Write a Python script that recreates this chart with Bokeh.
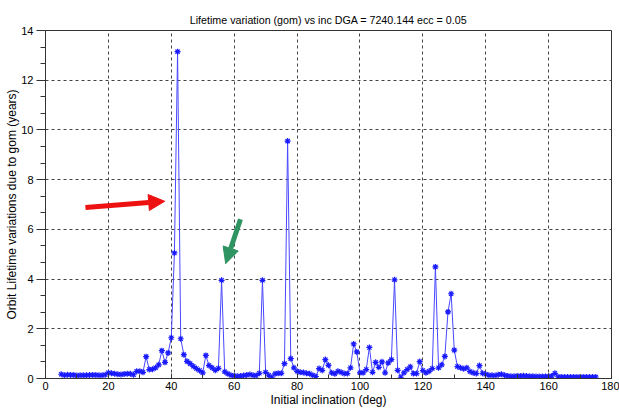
from bokeh.plotting import figure
from bokeh.models import FixedTicker, Arrow, NormalHead, ColumnDataSource, Title
from bokeh.embed import file_html
from bokeh.resources import INLINE

# ---- data ----
inclination = [
    5, 6, 7, 8, 9, 10, 11, 12, 13, 14,
    15, 16, 17, 18, 19, 20, 21, 22, 23, 24,
    25, 26, 27, 28, 29, 30, 31, 32, 33, 34,
    35, 36, 37, 38, 39, 40, 41, 42, 43, 44,
    45, 46, 47, 48, 49, 50, 51, 52, 53, 54,
    55, 56, 57, 58, 59, 60, 61, 62, 63, 64,
    65, 66, 67, 68, 69, 70, 71, 72, 73, 74,
    75, 76, 77, 78, 79, 80, 81, 82, 83, 84,
    85, 86, 87, 88, 89, 90, 91, 92, 93, 94,
    95, 96, 97, 98, 99, 100, 101, 102, 103, 104,
    105, 106, 107, 108, 109, 110, 111, 112, 113, 114,
    115, 116, 117, 118, 119, 120, 121, 122, 123, 124,
    125, 126, 127, 128, 129, 130, 131, 132, 133, 134,
    135, 136, 137, 138, 139, 140, 141, 142, 143, 144,
    145, 146, 147, 148, 149, 150, 151, 152, 153, 154,
    155, 156, 157, 158, 159, 160, 161, 162, 163, 164,
    165, 166, 167, 168, 169, 170, 171, 172, 173, 174,
    175,
]
lifetime_var = [
    0.17, 0.13, 0.15, 0.14, 0.14, 0.12, 0.13, 0.13, 0.13, 0.14,
    0.14, 0.14, 0.13, 0.13, 0.15, 0.23, 0.21, 0.19, 0.17, 0.16,
    0.18, 0.19, 0.19, 0.15, 0.29, 0.29, 0.25, 0.88, 0.36, 0.37,
    0.43, 0.55, 1.12, 0.65, 1.03, 1.64, 5.05, 13.15, 1.60, 0.96,
    0.69, 0.60, 0.49, 0.40, 0.32, 0.23, 0.93, 0.52, 0.43, 0.33,
    0.41, 3.95, 0.27, 0.19, 0.13, 0.11, 0.09, 0.10, 0.12, 0.14,
    0.16, 0.13, 0.12, 0.21, 3.95, 0.25, 0.13, 0.05, 0.19, 0.21,
    0.21, 0.60, 9.55, 0.80, 0.43, 0.29, 0.25, 0.24, 0.21, 0.19,
    0.13, 0.08, 0.40, 0.33, 0.76, 0.53, 0.23, 0.19, 0.29, 0.25,
    0.20, 0.20, 0.43, 1.39, 1.07, 0.23, 0.23, 0.36, 1.25, 0.25,
    0.65, 0.45, 0.67, 0.23, 0.63, 0.76, 3.97, 0.33, 0.05, 0.23,
    0.36, 0.47, 0.20, 0.20, 0.68, 0.32, 0.23, 0.29, 0.40, 4.49,
    0.43, 0.55, 0.89, 2.68, 3.41, 1.14, 0.48, 0.43, 0.39, 0.43,
    0.28, 0.23, 0.20, 0.52, 0.21, 0.17, 0.13, 0.13, 0.12, 0.15,
    0.17, 0.13, 0.10, 0.09, 0.09, 0.10, 0.10, 0.11, 0.10, 0.09,
    0.09, 0.08, 0.08, 0.08, 0.08, 0.09, 0.10, 0.21, 0.07, 0.06,
    0.06, 0.06, 0.06, 0.06, 0.06, 0.06, 0.06, 0.06, 0.06, 0.06,
    0.06,
]
x_ticks = [0, 20, 40, 60, 80, 100, 120, 140, 160, 180]
x_minor = [10, 30, 50, 70, 90, 110, 130, 150, 170]
y_ticks = [0, 2, 4, 6, 8, 10, 12, 14]
y_minor = [0.6667, 1.3333, 2.6667, 3.3333, 4.6667, 5.3333, 6.6667, 7.3333,
           8.6667, 9.3333, 10.6667, 11.3333, 12.6667, 13.3333]

# annotation arrows (tail x, tail y, tip x, tip y) in data units
red_arrow = [12.7, 6.88, 37.9, 7.13]
green_arrow = [62.0, 6.41, 57.3, 4.62]

TITLE = "Lifetime variation (gom) vs inc DGA = 7240.144 ecc = 0.05"
X_LABEL = "Initial inclination (deg)"
Y_LABEL = "Orbit Lifetime variations due to gom (years)"
FONT = "Liberation Sans"

p = figure(width=619, height=410, output_backend="svg", toolbar_location=None,
           x_range=(0, 180), y_range=(0, 14), title=TITLE,
           min_border_left=45, min_border_right=8, min_border_top=30,
           min_border_bottom=32)

p.title.align = "center"
p.title.text_font = FONT
p.title.text_font_size = "10.7px"
p.title.text_font_style = "normal"
p.title.text_color = "black"
p.title.standoff = 9
p.title.offset = 0

p.outline_line_color = "#333333"
p.outline_line_width = 1
p.background_fill_color = "white"
p.border_fill_color = "white"

p.xaxis.ticker = FixedTicker(ticks=x_ticks, minor_ticks=x_minor)
p.yaxis.ticker = FixedTicker(ticks=y_ticks, minor_ticks=y_minor)

for ax in (p.xaxis, p.yaxis):
    ax.axis_line_color = "#333333"
    ax.major_tick_line_color = "#333333"
    ax.minor_tick_line_color = "#333333"
    ax.major_label_text_font = FONT
    ax.major_label_text_font_size = "11px"
    ax.major_label_text_color = "black"
    ax.axis_label_text_font = FONT
    ax.axis_label_text_font_style = "normal"
    ax.axis_label_text_color = "black"

p.xaxis.axis_label = X_LABEL
p.xaxis.axis_label_text_font_size = "12px"
p.xaxis.major_tick_in = 5
p.xaxis.major_tick_out = 0
p.xaxis.minor_tick_in = 4
p.xaxis.minor_tick_out = 0
p.xaxis.major_label_standoff = 3
p.xaxis.axis_label_standoff = 0

p.yaxis.major_tick_in = 0
p.yaxis.major_tick_out = 9
p.yaxis.minor_tick_in = 0
p.yaxis.minor_tick_out = 5
p.yaxis.major_label_standoff = 3

p.xgrid.ticker = FixedTicker(ticks=x_ticks)
p.ygrid.ticker = FixedTicker(ticks=y_ticks)
for g in (p.xgrid, p.ygrid):
    g.grid_line_color = "#444444"
    g.grid_line_dash = "3 3"
    g.grid_line_width = 1

src = ColumnDataSource(dict(x=inclination, y=lifetime_var))
p.line("x", "y", source=src, line_color="#4848ff", line_width=1)
p.scatter("x", "y", source=src, marker="asterisk", size=6,
          line_color="#1a1aff", line_width=1.2)

# y-axis title as a side title (sits a little above the frame centre, as in the original)
p.add_layout(Title(text=Y_LABEL, align="center", offset=16, standoff=0,
                   text_font=FONT, text_font_size="12px",
                   text_font_style="normal", text_color="black"), "left")

p.add_layout(Arrow(end=NormalHead(size=16, fill_color="#ee1111", line_color="#ee1111"),
                   x_start=red_arrow[0], y_start=red_arrow[1],
                   x_end=red_arrow[2], y_end=red_arrow[3],
                   line_color="#ee1111", line_width=5))
p.add_layout(Arrow(end=NormalHead(size=16, fill_color="#2e9462", line_color="#2e9462"),
                   x_start=green_arrow[0], y_start=green_arrow[1],
                   x_end=green_arrow[2], y_end=green_arrow[3],
                   line_color="#2e9462", line_width=5))

open("out.html", "w").write(file_html(p, INLINE))
